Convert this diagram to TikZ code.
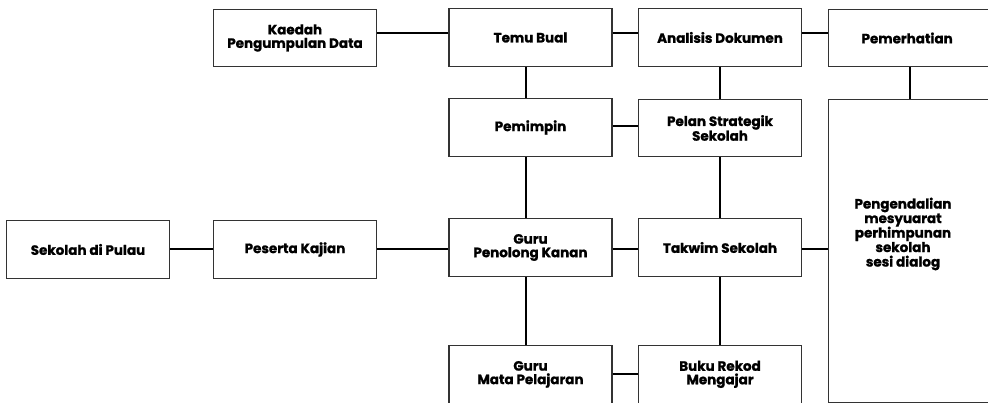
\documentclass[tikz,border=0pt]{standalone}
\usepackage{fontspec}
\setmainfont{Poppins}[BoldFeatures={FakeBold=1.2}]
\begin{document}
\begin{tikzpicture}[x=1pt,y=-1pt,
  box/.style={draw=black!80, line width=1.3pt, minimum width=163pt, minimum height=57.5pt,
    inner sep=2pt, align=center, font=\bfseries\fontsize{13.5}{13.5}\selectfont},
  link/.style={draw=black, line width=1.6pt},
  every node/.style={text=black}]
\useasboundingbox (0,0) rectangle (988,403);
% top row
\node[box] (kaedah) at (295,38) {Kaedah\\Pengumpulan Data};
\node[box] (temu) at (530.5,37.5) {Temu Bual};
\node[box] (analisis) at (720,37.5) {Analisis Dokumen};
\node[box, anchor=west] (pemerhatian) at (828,38) {\hspace*{-6pt}Pemerhatian};
% second row
\node[box] (pemimpin) at (530.5,127.5) {Pemimpin};
\node[box] (pelan) at (720,128) {Pelan Strategik\\Sekolah};
\node[draw=black!80, line width=1.3pt, minimum width=163pt, minimum height=303pt,
  anchor=north west, inner sep=0pt] (sesi) at (828,99) {};
\node[align=center, font=\bfseries\fontsize{13.5}{14.5}\selectfont] (sesitext) at (903,234)
  {Pengendalian\\mesyuarat\\perhimpunan\\sekolah\\sesi dialog};
% middle row
\node[box] (sekolah) at (88,249.5) {Sekolah di Pulau};
\node[box] (peserta) at (295,249.5) {Peserta Kajian};
\node[box] (gurupk) at (530.5,247.5) {Guru\\Penolong Kanan};
\node[box] (takwim) at (720,247.5) {Takwim Sekolah};
% bottom row
\node[box, anchor=north] (gurump) at (530.5,345) {Guru\\Mata Pelajaran};
\node[box, anchor=north] (buku) at (720,345) {Buku Rekod\\Mengajar};
% connectors
\draw[link] (kaedah.east |- 0,33) -- (temu.west |- 0,33);
\draw[link] (temu.east |- 0,33) -- (analisis.west |- 0,33);
\draw[link] (analisis.east |- 0,33) -- (pemerhatian.west |- 0,33);
\draw[link] ([xshift=-4.5pt]temu.south) -- ([xshift=-4.5pt]pemimpin.north);
\draw[link] (analisis.south) -- (pelan.north);
\draw[link] (pemerhatian.south -| 910,0) -- (sesi.north -| 910,0);
\draw[link] (pemimpin.east |- 0,126) -- (pelan.west |- 0,126);
\draw[link] ([xshift=-4.5pt]pemimpin.south) -- ([xshift=-4.5pt]gurupk.north);
\draw[link] (pelan.south) -- (takwim.north);
\draw[link] (sekolah.east |- 0,249) -- (peserta.west |- 0,249);
\draw[link] (peserta.east |- 0,249) -- (gurupk.west |- 0,249);
\draw[link] (gurupk.east |- 0,249) -- (takwim.west |- 0,249);
\draw[link] (takwim.east |- 0,249) -- (sesi.west |- 0,249);
\draw[link] ([xshift=-4.5pt]gurupk.south) -- ([xshift=-4.5pt]gurump.north);
\draw[link] (takwim.south) -- (buku.north);
\draw[link] (gurump.east |- 0,374) -- (buku.west |- 0,374);
\end{tikzpicture}
\end{document}
